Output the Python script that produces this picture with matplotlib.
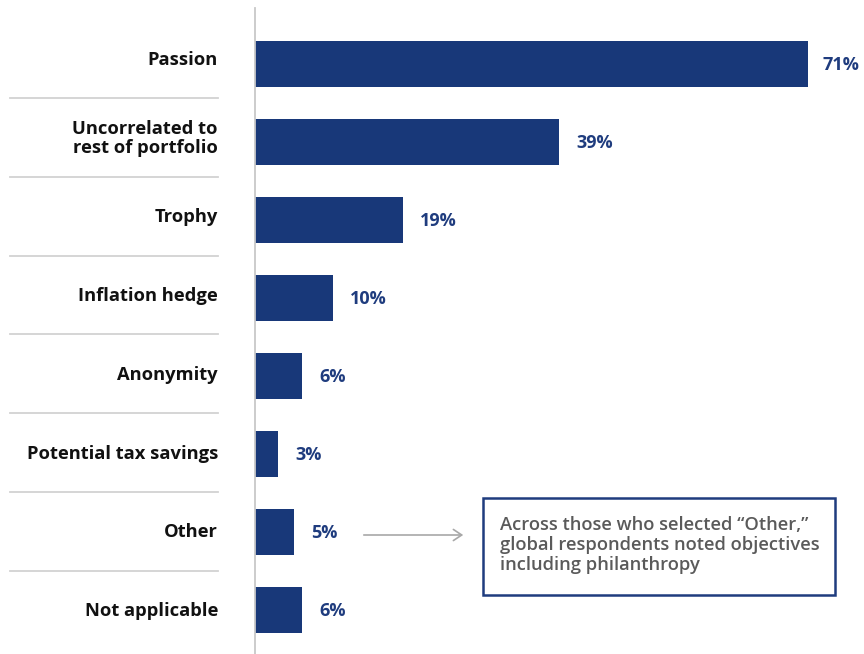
import matplotlib
matplotlib.use("Agg")
import matplotlib.pyplot as plt
from matplotlib.patches import Rectangle, FancyArrowPatch
from matplotlib.lines import Line2D
from matplotlib.transforms import blended_transform_factory

plt.rcParams['font.family'] = ['Open Sans', 'DejaVu Sans']

categories = ['Passion', 'Uncorrelated to\nrest of portfolio', 'Trophy', 'Inflation hedge',
              'Anonymity', 'Potential tax savings', 'Other', 'Not applicable']
values = [71, 39, 19, 10, 6, 3, 5, 6]
value_labels = ['71%', '39%', '19%', '10%', '6%', '3%', '5%', '6%']
note_text = 'Across those who selected \u201cOther,\u201d\nglobal respondents noted objectives\nincluding philanthropy'

W, H = 864, 654
bar_color = '#183879'
label_color = '#1f3c7e'
sep_color = '#d2d2d2'

fig = plt.figure(figsize=(W / 100, H / 100), dpi=100)
ax = fig.add_axes([255 / W, 0, 609 / W, 646 / H])

y = list(range(len(categories)))
ax.barh(y, values, height=0.59, color=bar_color)
ax.set_xlim(0, 78.2)
ax.set_ylim(7.564, -0.718)

for yi, v, lab in zip(y, values, value_labels):
    ax.annotate(lab, (v, yi), xytext=(12.5 if v < 50 else 10.5, -1), textcoords='offset points',
                ha='left', va='center', fontsize=13, fontweight='bold', color=label_color)

# category labels and separators in the left margin
tr = blended_transform_factory(fig.transFigure, ax.transData)
for yi, cat in zip(y, categories):
    fig.text(218 / W, yi * 1.009 - 0.051, cat, transform=tr, ha='right', va='center',
             fontsize=13.2, fontweight='bold', color='#111111', linespacing=1.1)
for yi in range(len(categories) - 1):
    ys = yi * 1.0103 + 0.436
    fig.add_artist(Line2D([10 / W, 218 / W], [ys, ys], transform=tr,
                          color=sep_color, lw=1.3))

for s in ['top', 'right', 'bottom']:
    ax.spines[s].set_visible(False)
ax.spines['left'].set_color('#c8c8c8')
ax.spines['left'].set_linewidth(1.3)
ax.set_xticks([])
ax.set_yticks([])

# note box and arrow
fig.add_artist(Rectangle((483 / W, 1 - 595 / H), (835 - 483) / W, (595 - 498) / H,
                         transform=fig.transFigure, facecolor='white',
                         edgecolor=label_color, lw=1.8))
fig.text(500 / W, 1 - 545 / H, note_text, ha='left', va='center', fontsize=13.2,
         fontweight='semibold', color='#5a5a5a', linespacing=1.15)
fig.add_artist(FancyArrowPatch((361 / W, 1 - 535 / H), (466 / W, 1 - 535 / H),
                               transform=fig.transFigure, arrowstyle='->,head_length=6,head_width=4',
                               color='#a8a8a8', lw=1.2, mutation_scale=1))

fig.savefig('out.png', dpi=100)
